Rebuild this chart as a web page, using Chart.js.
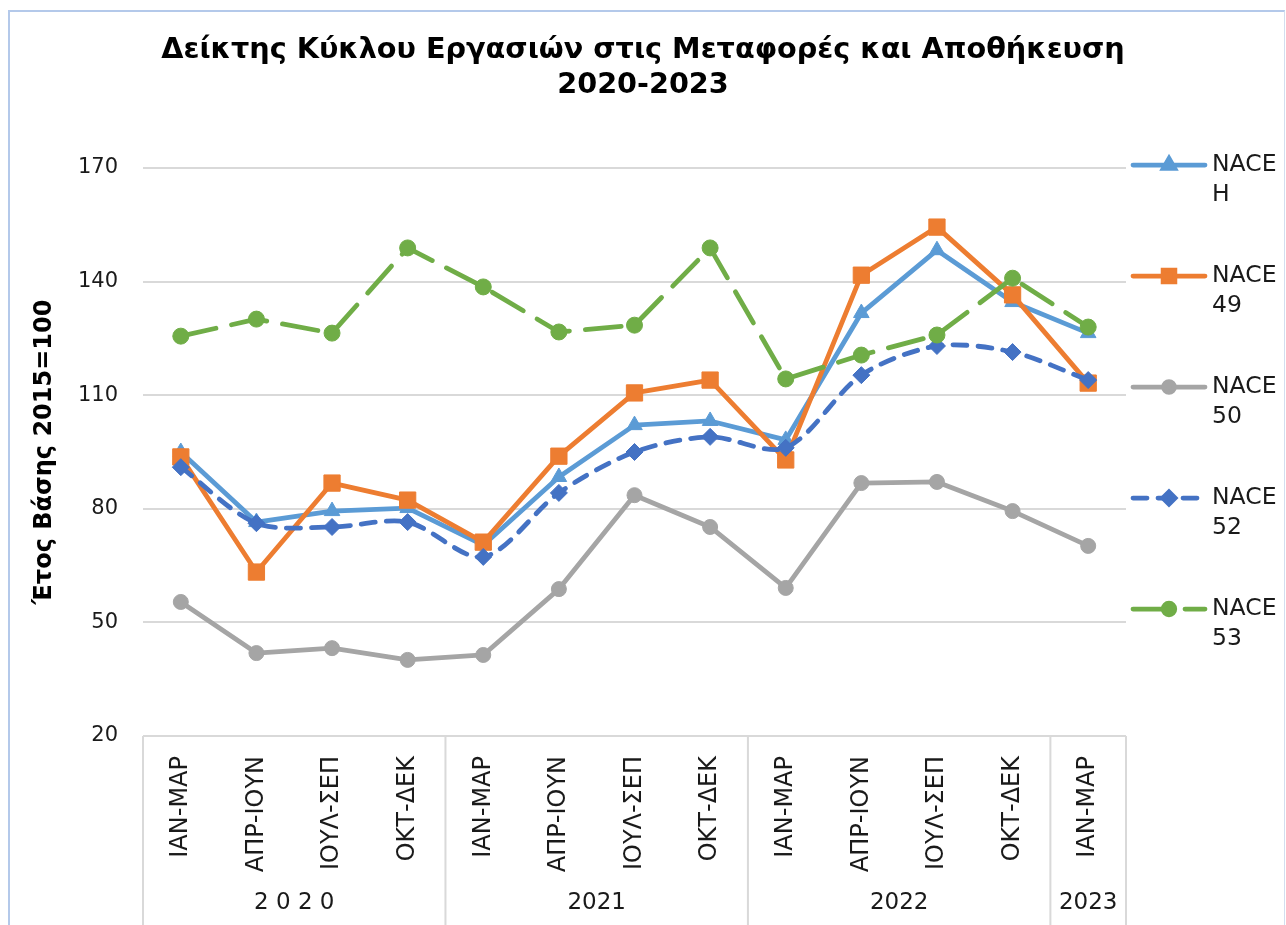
<!DOCTYPE html>
<html>
<head>
<meta charset="utf-8">
<script src="https://cdn.jsdelivr.net/npm/chart.js@4"></script>
<style>
  body { margin: 0; background: #fff; }
  #wrap { position: relative; width: 1286px; height: 925px; }
  #frame { position: absolute; left: 8px; top: 10px; width: 1277px; height: 930px;
           border: 2px solid #b4c9ea; border-right: 1px solid #d3deef; box-sizing: border-box; pointer-events: none; }
</style>
</head>
<body>
<div id="wrap">
  <canvas id="chart" width="1286" height="925"></canvas>
  <div id="frame"></div>
</div>
<script>
// quarters and years (two-level x axis)
const quarters = ['ΙΑΝ-ΜΑΡ', 'ΑΠΡ-ΙΟΥΝ', 'ΙΟΥΛ-ΣΕΠ', 'ΟΚΤ-ΔΕΚ',
                  'ΙΑΝ-ΜΑΡ', 'ΑΠΡ-ΙΟΥΝ', 'ΙΟΥΛ-ΣΕΠ', 'ΟΚΤ-ΔΕΚ',
                  'ΙΑΝ-ΜΑΡ', 'ΑΠΡ-ΙΟΥΝ', 'ΙΟΥΛ-ΣΕΠ', 'ΟΚΤ-ΔΕΚ',
                  'ΙΑΝ-ΜΑΡ'];
const years = ['2 0 2 0', '2021', '2022', '2023'];
const yearSpans = [4, 4, 4, 1];

const seriesNames = ['NACE H', 'NACE 49', 'NACE 50', 'NACE 52', 'NACE 53'];
const naceH  = [95.0, 76.5, 79.4, 80.2, 70.4, 88.4, 102.1, 103.2, 98.2, 131.7, 148.3, 134.6, 126.4];
const nace49 = [93.7, 63.3, 86.8, 82.3, 71.2, 93.9, 110.6, 114.0, 92.9, 141.7, 154.4, 136.5, 113.2];
const nace50 = [55.4, 41.9, 43.2, 40.1, 41.4, 58.8, 83.6, 75.2, 59.1, 86.8, 87.1, 79.4, 70.2];
const nace52 = [91.0, 76.2, 75.2, 76.5, 67.3, 84.2, 95.0, 99.0, 96.1, 115.3, 123.0, 121.4, 114.0];
const nace53 = [125.6, 130.1, 126.4, 148.9, 138.6, 126.7, 128.5, 148.9, 114.3, 120.6, 125.9, 140.9, 128.0];

const yMin = 20, yMax = 170, yStep = 30;

const FONT = 'DejaVu Sans, Verdana, sans-serif';
const TEXT = '#1a1a1a';

function series(label, data, color, style, radius, dash, order, tension) {
    return {
        label: label,
        data: data,
        borderColor: color,
        backgroundColor: color,
        borderWidth: 4.8,
        borderDash: dash,
        borderCapStyle: 'round',
        borderJoinStyle: 'round',
        pointStyle: style,
        pointRadius: radius,
        pointBorderWidth: 1,
        pointBackgroundColor: color,
        pointBorderColor: color,
        tension: tension,
        order: order
    };
}

// draws the custom two-line legend on the right
const sideLegend = {
    id: 'sideLegend',
    afterDraw(chart) {
        const ctx = chart.ctx;
        const area = chart.chartArea;
        ctx.save();
        chart.data.datasets.forEach((ds, i) => {
            const y = area.top - 3 + i * 111;
            const x0 = area.right + 7, x1 = area.right + 79;
            ctx.strokeStyle = ds.borderColor;
            ctx.lineWidth = ds.borderWidth;
            ctx.lineCap = 'round';
            ctx.setLineDash(ds.borderDash || []);
            ctx.beginPath();
            ctx.moveTo(x0, y);
            ctx.lineTo(x1, y);
            ctx.stroke();
            ctx.setLineDash([]);
            ctx.fillStyle = ds.borderColor;
            Chart.helpers.drawPoint(ctx, {
                pointStyle: ds.pointStyle, radius: ds.pointRadius * 0.72, borderWidth: 1, rotation: 0
            }, area.right + 43, y);
            const parts = ds.label.split(' ');
            ctx.fillStyle = TEXT;
            ctx.font = '23.5px ' + FONT;
            ctx.textAlign = 'left';
            ctx.textBaseline = 'middle';
            ctx.fillText(parts[0], area.right + 86, y);
            ctx.fillText(parts[1], area.right + 86, y + 30);
        });
        ctx.restore();
    }
};

// year group labels and separators below the rotated quarter labels
const yearGroups = {
    id: 'yearGroups',
    afterDraw(chart) {
        const ctx = chart.ctx;
        const xs = chart.scales.x;
        const step = (xs.right - xs.left) / quarters.length;
        const top = chart.chartArea.bottom;
        ctx.save();
        ctx.strokeStyle = '#d9d9d9';
        ctx.lineWidth = 2;
        ctx.beginPath();
        ctx.moveTo(xs.left, top);
        ctx.lineTo(xs.left, chart.height);
        let idx = 0;
        ctx.fillStyle = TEXT;
        ctx.font = '23px ' + FONT;
        ctx.textAlign = 'center';
        ctx.textBaseline = 'middle';
        years.forEach((yr, i) => {
            const start = idx;
            idx += yearSpans[i];
            const x = xs.left + idx * step;
            ctx.moveTo(x, top);
            ctx.lineTo(x, chart.height);
            ctx.fillText(yr, xs.left + (start + yearSpans[i] / 2) * step, 903);
        });
        ctx.stroke();
        ctx.restore();
    }
};

new Chart(document.getElementById('chart'), {
    type: 'line',
    data: {
        labels: quarters,
        datasets: [
            series(seriesNames[0], naceH,  '#5b9bd5', 'triangle', 9, [], 5, 0),
            series(seriesNames[1], nace49, '#ed7d31', 'rect', 11.5, [], 4, 0),
            series(seriesNames[2], nace50, '#a5a5a5', 'circle', 7.5, [], 3, 0),
            series(seriesNames[3], nace52, '#4472c4', 'rectRot', 8.5, [14, 11], 2, 0.3),
            series(seriesNames[4], nace53, '#70ad47', 'circle', 8, [36, 16], 1, 0)
        ]
    },
    options: {
        responsive: false,
        animation: false,
        layout: { padding: { left: 0, right: 0, top: 0, bottom: 5 } },
        scales: {
            x: {
                offset: true,
                grid: { display: false },
                border: { display: false },
                ticks: {
                    autoSkip: false,
                    minRotation: 90,
                    maxRotation: 90,
                    padding: 12,
                    color: TEXT,
                    font: { family: FONT, size: 24 }
                },
                afterFit(scale) { scale.height = 184; }
            },
            y: {
                min: yMin,
                max: yMax,
                grid: { color: '#d9d9d9', lineWidth: 2, drawTicks: false },
                border: { display: false },
                ticks: {
                    stepSize: yStep,
                    padding: 25,
                    color: TEXT,
                    font: { family: FONT, size: 21 }
                },
                title: {
                    display: true,
                    text: 'Έτος Βάσης 2015=100',
                    color: '#000',
                    font: { family: FONT, size: 24, weight: 'bold' },
                    padding: { top: 30, bottom: 0 }
                },
                afterFit(scale) { scale.width = 143; }
            },
            yRight: {
                position: 'right',
                grid: { display: false },
                border: { display: false },
                ticks: { display: false },
                afterFit(scale) { scale.width = 160; }
            }
        },
        plugins: {
            legend: { display: false },
            tooltip: { enabled: false },
            title: {
                display: true,
                text: ['Δείκτης Κύκλου Εργασιών στις Μεταφορές και Αποθήκευση', '2020-2023'],
                color: '#000',
                font: { family: FONT, size: 28.7, weight: 'bold', lineHeight: 1.22 },
                padding: { top: 33, bottom: 65 }
            }
        }
    },
    plugins: [sideLegend, yearGroups]
});
</script>
</body>
</html>
